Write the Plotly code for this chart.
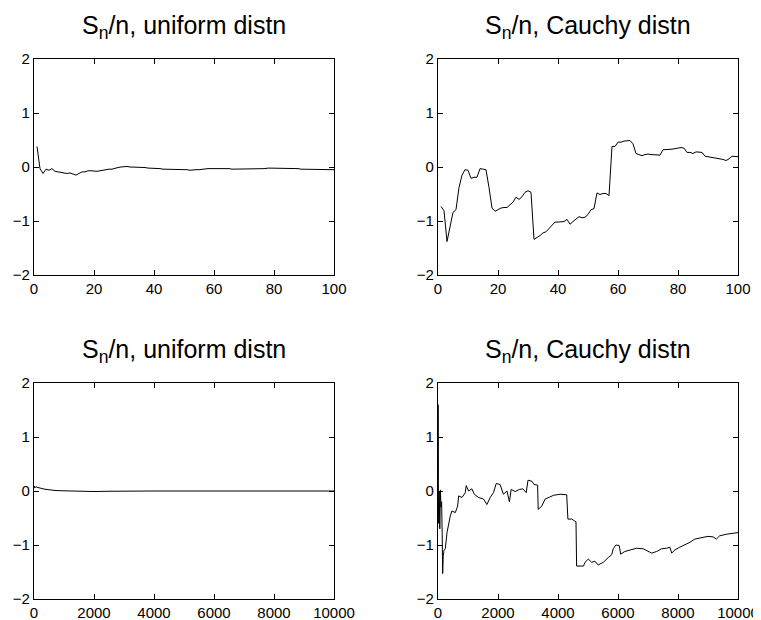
import plotly.graph_objects as go

# ---- data ----
n_small = list(range(1, 101))

uniform_100 = [
    0.38, -0.03, -0.12, -0.04, -0.06, -0.03, -0.08, -0.09, -0.10, -0.10,
    -0.12, -0.11, -0.13, -0.15, -0.12, -0.09, -0.09, -0.07, -0.07, -0.08,
    -0.08, -0.07, -0.06, -0.04, -0.04, -0.04, -0.02, -0.01, 0.00, 0.01,
    0.01, 0.00, 0.00, 0.00, 0.00, -0.01, -0.01, -0.02, -0.02, -0.02,
    -0.03, -0.03, -0.04, -0.04, -0.05, -0.05, -0.04, -0.04, -0.04, -0.04,
    -0.05, -0.06, -0.05, -0.05, -0.05, -0.04, -0.04, -0.03, -0.03, -0.03,
    -0.03, -0.02, -0.03, -0.03, -0.03, -0.04, -0.04, -0.04, -0.04, -0.04,
    -0.04, -0.03, -0.03, -0.03, -0.03, -0.03, -0.03, -0.02, -0.02, -0.02,
    -0.02, -0.02, -0.02, -0.03, -0.03, -0.03, -0.03, -0.03, -0.04, -0.04,
    -0.04, -0.04, -0.04, -0.04, -0.04, -0.04, -0.05, -0.05, -0.05, -0.05,
]

cauchy_100 = [
    -0.73, -0.81, -1.38, -1.11, -0.84, -0.79, -0.38, -0.15, -0.05, -0.06,
    -0.21, -0.19, -0.19, -0.03, -0.04, -0.05, -0.38, -0.76, -0.82, -0.79,
    -0.76, -0.75, -0.75, -0.70, -0.65, -0.56, -0.60, -0.55, -0.47, -0.44,
    -0.47, -1.34, -1.31, -1.27, -1.22, -1.20, -1.14, -1.07, -1.02, -1.02,
    -1.02, -1.01, -0.97, -1.06, -1.01, -0.96, -0.92, -0.94, -0.93, -0.88,
    -0.79, -0.77, -0.48, -0.51, -0.49, -0.49, -0.53, 0.38, 0.38, 0.46,
    0.46, 0.48, 0.49, 0.49, 0.43, 0.25, 0.23, 0.21, 0.23, 0.24,
    0.23, 0.23, 0.22, 0.22, 0.32, 0.32, 0.33, 0.33, 0.34, 0.35,
    0.36, 0.35, 0.27, 0.27, 0.25, 0.28, 0.28, 0.27, 0.20, 0.19,
    0.19, 0.17, 0.16, 0.15, 0.14, 0.12, 0.15, 0.20, 0.19, 0.19,
]

uniform_10k_n = [1, 10, 30, 60, 100, 150, 200, 300, 400, 500, 700, 900, 1200,
                 1500, 2000, 2500, 3000, 4000, 5000, 6000, 7000, 8000, 9000, 10000]
uniform_10k = [0.05, 0.09, 0.06, 0.08, 0.07, 0.06, 0.05, 0.04, 0.03, 0.02, 0.01, 0.005, 0.0,
               -0.005, -0.01, -0.005, 0.0, 0.0, 0.0, 0.0, 0.0, 0.0, 0.0, 0.0]

cauchy_10k_n = [1, 3, 8, 15, 25, 40, 60, 80, 100, 120, 140, 155, 175, 200, 244,
                300, 410, 465, 577, 654, 690, 800, 910, 940, 1020, 1130, 1210,
                1350, 1520, 1630, 1740, 1850, 1940, 2070, 2180, 2300, 2380, 2440,
                2570, 2720, 2830, 2940, 3000, 3130, 3200, 3320, 3340, 3460, 3570,
                3680, 3850, 4070, 4290, 4330, 4460, 4540, 4600, 4620, 4850, 4900,
                5010, 5120, 5230, 5340, 5510, 5680, 5790, 5840, 5930, 6040, 6090,
                6230, 6400, 6620, 6840, 6950, 7120, 7290, 7450, 7620, 7730, 7790,
                7900, 8060, 8230, 8400, 8560, 8780, 9000, 9170, 9280, 9390, 9620, 10000]
cauchy_10k = [0.2, 1.6, 0.9, -0.2, -0.6, 0.0, -0.7, 0.02, -0.3, -0.2, -0.8, -1.53, -1.2, -1.1, -1.07,
              -0.77, -0.46, -0.37, -0.40, -0.28, -0.09, -0.12, -0.03, 0.10, 0.00, 0.04, -0.06,
              -0.12, -0.15, -0.25, -0.12, -0.03, 0.14, 0.12, -0.06, 0.00, -0.20, 0.03,
              -0.01, 0.03, 0.04, -0.03, 0.20, 0.18, 0.12, 0.11, -0.34, -0.28, -0.15,
              -0.12, -0.08, -0.06, -0.07, -0.52, -0.52, -0.55, -0.57, -1.39, -1.39, -1.32,
              -1.26, -1.32, -1.30, -1.37, -1.32, -1.23, -1.18, -1.07, -1.00, -1.01, -1.17,
              -1.12, -1.09, -1.06, -1.07, -1.10, -1.15, -1.12, -1.07, -1.06, -1.04, -1.15,
              -1.09, -1.04, -1.00, -0.95, -0.89, -0.86, -0.84, -0.85, -0.89, -0.83, -0.80, -0.77]

titles = ["S<sub>n</sub>/n, uniform distn", "S<sub>n</sub>/n, Cauchy distn",
          "S<sub>n</sub>/n, uniform distn", "S<sub>n</sub>/n, Cauchy distn"]
y_ticks = [-2, -1, 0, 1, 2]
x_ticks_small = [0, 20, 40, 60, 80, 100]
x_ticks_large = [0, 2000, 4000, 6000, 8000, 10000]

# the page body has an 8px margin; the figure starts at (8, 8) in the window
OFF = 8
W, H = 761 - OFF, 620 - OFF
FONT = "Liberation Sans, Arial, Helvetica, sans-serif"

# plot-area pixel boxes in window coordinates (left, right, top, bottom)
boxes = [(34, 334, 59, 275), (438, 738, 59, 275), (34, 334, 383, 599), (438, 738, 383, 599)]

fig = go.Figure()
series = [(n_small, uniform_100), (n_small, cauchy_100),
          (uniform_10k_n, uniform_10k), (cauchy_10k_n, cauchy_10k)]
for i, (xs, ys) in enumerate(series):
    sfx = "" if i == 0 else str(i + 1)
    fig.add_trace(go.Scatter(x=xs, y=ys, mode="lines", line=dict(color="black", width=1),
                             xaxis="x" + sfx, yaxis="y" + sfx, showlegend=False,
                             hoverinfo="skip"))

layout = dict(width=W, height=H, margin=dict(l=0, r=0, t=0, b=0, autoexpand=False),
              paper_bgcolor="white", plot_bgcolor="white",
              font=dict(family=FONT, size=15, color="black"), annotations=[])
for i, (l, r, t, b) in enumerate(boxes):
    sfx = "" if i == 0 else str(i + 1)
    l, r, t, b = l - OFF, r - OFF, t - OFF, b - OFF
    xd = [l / W, r / W]
    yd = [1 - b / H, 1 - t / H]
    xt = x_ticks_small if i < 2 else x_ticks_large
    common = dict(showline=True, linecolor="black", linewidth=1.2, mirror="ticks",
                  ticks="inside", ticklen=5, tickwidth=1, tickcolor="black",
                  showgrid=False, zeroline=False, automargin=False,
                  tickfont=dict(family=FONT, size=15, color="black"))
    layout["xaxis" + sfx] = dict(domain=xd, range=[0, xt[-1]], tickvals=xt,
                                 ticktext=[str(v) for v in xt],
                                 anchor="y" + sfx, **common)
    layout["yaxis" + sfx] = dict(domain=yd, range=[-2, 2], tickvals=y_ticks,
                                 ticktext=[("\u2212" + str(-v)) if v < 0 else str(v) for v in y_ticks],
                                 anchor="x" + sfx, **common)
    layout["annotations"].append(dict(text=titles[i], xref="paper", yref="paper",
                                      x=(xd[0] + xd[1]) / 2, y=yd[1], xanchor="center",
                                      yanchor="bottom", yshift=14, showarrow=False,
                                      font=dict(family=FONT, size=25, color="black")))
fig.update_layout(**layout)
fig.write_html("out.html")
